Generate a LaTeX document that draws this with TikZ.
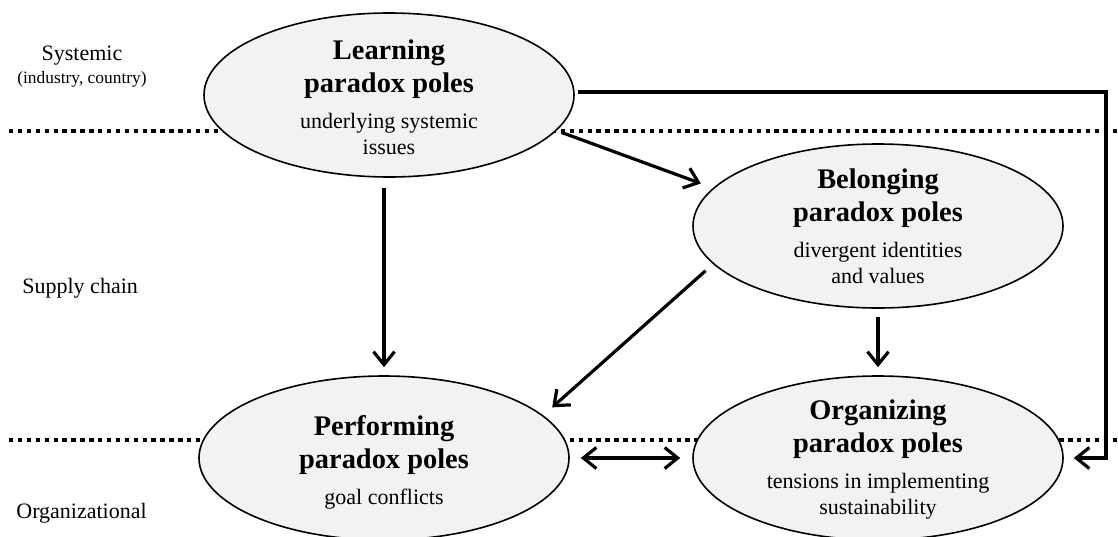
\documentclass[tikz,border=0pt]{standalone}
\usepackage{fontspec}
\setmainfont{Liberation Serif}
\usetikzlibrary{shapes.geometric,arrows.meta}
\definecolor{polefill}{HTML}{F2F2F2}
\newcommand{\ttlfont}{\fontsize{14.2}{16.5}\selectfont\bfseries}
\newcommand{\subfont}{\fontsize{11}{13}\selectfont}

\begin{document}
\begin{tikzpicture}[x=0.5pt, y=-0.5pt,
    pole/.style={ellipse, draw, line width=0.8pt, fill=polefill,
      minimum width=185pt, minimum height=82pt, inner sep=0pt},
    poletext/.style={align=center, inner sep=0pt, font=\subfont},
    level/.style={inner sep=0pt, font=\subfont},
    levelline/.style={line width=2pt, dash pattern=on 2.2pt off 2.25pt},
    arr/.style={line width=1.6pt, -{Straight Barb[length=6.5pt,width=10.5pt]}},
    arrboth/.style={line width=1.6pt,
      {Straight Barb[length=6.5pt,width=10.5pt]}-{Straight Barb[length=6.5pt,width=10.5pt]}}]
  \useasboundingbox (0,0) rectangle (1118,536);

  % level dividers
  \draw[levelline] (9,131) -- (1118,131);
  \draw[levelline] (9,440) -- (1118,440);

  % level labels
  \node[level, anchor=base] (sys) at (82,60) {Systemic};
  \node[level, anchor=base, font=\fontsize{8.7}{10}\selectfont] (sysdet) at (82,83) {(industry, country)};
  \node[level, anchor=base west] (supply) at (22,293) {Supply chain};
  \node[level, anchor=base west] (orglevel) at (16,518) {Organizational};

  % paradox poles
  \node[pole] (learn) at (389,95) {};
  \node[pole] (belong) at (878,226) {};
  \node[pole] (perf) at (384,458) {};
  \node[pole] (org) at (878,458) {};

  \node[poletext] (learn-txt) at ([yshift=-1pt]learn.center) {\ttlfont Learning\\[3.5pt] \ttlfont paradox poles\\[5pt] underlying systemic\\ issues};
  \node[poletext] (belong-txt) at (belong) {\ttlfont Belonging\\[3.5pt] \ttlfont paradox poles\\[5pt] divergent identities\\ and values};
  \node[poletext] (perf-txt) at ([yshift=-2pt]perf.center) {\ttlfont Performing\\[3.5pt] \ttlfont paradox poles\\[5pt] goal conflicts};
  \node[poletext] (org-txt) at ([yshift=-1pt]org.center) {\ttlfont Organizing\\[3.5pt] \ttlfont paradox poles\\[5pt] tensions in implementing\\ sustainability};

  % links
  \coordinate (bend) at (1106,458);
  \draw[arr, shorten <=5pt, shorten >=4pt] (learn.south -| perf.north) -- (perf.north);
  \draw[arr, shorten <=2.5pt, shorten >=6.5pt] (learn.-12) -- (belong.167.6);
  \draw[arr, shorten <=5pt, shorten >=6pt] (belong.193) -- (perf.15);
  \draw[arr, shorten <=4pt, shorten >=4pt] (belong.south) -- (org.north);
  \draw[arrboth, shorten <=5.5pt, shorten >=6pt] (perf.east) -- (org.west);
  \draw[arr, shorten <=1.5pt, shorten >=5pt] ([yshift=1.5pt]learn.east) -| (bend) -- (org.east);
\end{tikzpicture}
\end{document}
